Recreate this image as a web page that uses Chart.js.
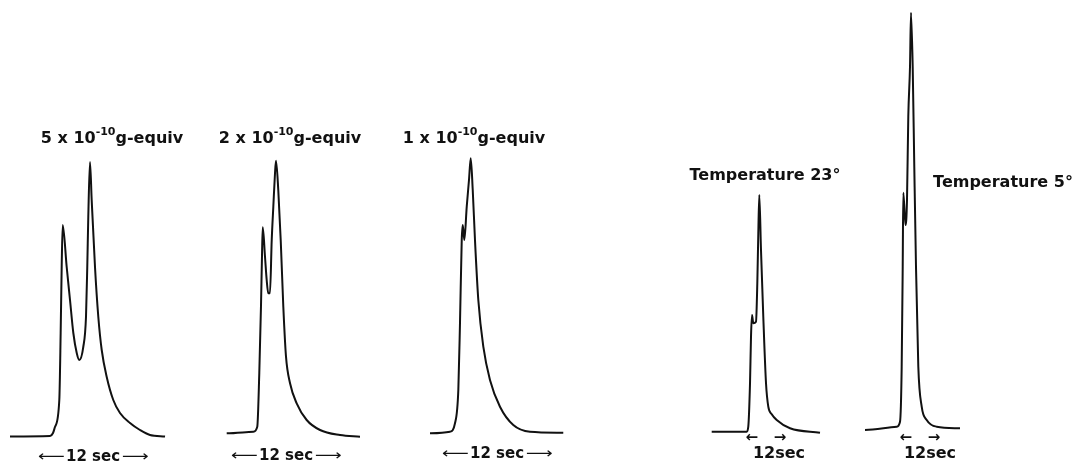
<!DOCTYPE html>
<html>
<head>
<meta charset="utf-8">
<script src="https://cdn.jsdelivr.net/npm/chart.js@4.4.0/dist/chart.umd.min.js"></script>
<style>
  body { margin: 0; background: #fff; }
  #wrap { position: relative; width: 1073px; height: 464px; }
  .lbl {
    position: absolute; transform: translate(-50%, -50%);
    font-family: "DejaVu Sans", sans-serif; font-weight: bold;
    font-size: 16px; color: #111; white-space: nowrap; line-height: 1;
  }
  .lbl sup { font-size: 11px; position: relative; top: -2px; }
  .small { font-size: 15px; }
  .arr { display: inline-block; transform: scaleX(1.25); font-weight: normal; margin: 0 4px; }
</style>
</head>
<body>
<div id="wrap">
  <canvas id="graphCanvas" width="1073" height="464"></canvas>
  <div class="lbl" style="left:112px;top:137px">5 x 10<sup>-10</sup>g-equiv</div>
  <div class="lbl" style="left:290px;top:137px">2 x 10<sup>-10</sup>g-equiv</div>
  <div class="lbl" style="left:474px;top:137px">1 x 10<sup>-10</sup>g-equiv</div>
  <div class="lbl" style="left:765px;top:175px">Temperature 23°</div>
  <div class="lbl" style="left:1003px;top:182px">Temperature 5°</div>
  <div class="lbl small" style="left:93px;top:456px"><span class="arr">⟵</span>12 sec<span class="arr">⟶</span></div>
  <div class="lbl small" style="left:286px;top:455px"><span class="arr">⟵</span>12 sec<span class="arr">⟶</span></div>
  <div class="lbl small" style="left:497px;top:453px"><span class="arr">⟵</span>12 sec<span class="arr">⟶</span></div>
  <div class="lbl small" style="left:766px;top:437px">←&nbsp;&nbsp;&nbsp;→</div>
  <div class="lbl" style="left:779px;top:453px">12sec</div>
  <div class="lbl small" style="left:920px;top:437px">←&nbsp;&nbsp;&nbsp;→</div>
  <div class="lbl" style="left:930px;top:453px">12sec</div>
</div>
<script>
// each trace: time in seconds from the start of the recording, signal above baseline
var time1 = [0, 4.71, 5.06, 5.29, 5.80, 5.96, 6.08, 6.20, 6.67, 7.06, 7.45, 7.85, 8.15, 8.62, 8.94, 9.09, 9.21, 9.41, 9.61, 10.0, 10.39, 10.79, 11.38, 12.15, 12.94, 14.12, 15.29, 16.47, 18.24];
var sig1  = [0, 0.5, 3.5, 9.5, 36.5, 103.5, 169.5, 211.5, 169.5, 136.5, 103.5, 83.5, 76.5, 89.5, 119.5, 169.5, 219.5, 274.5, 236.5, 169.5, 119.5, 86.5, 59.5, 36.5, 23.5, 13.5, 6.5, 1.5, 0];

var time2 = [0, 3.17, 3.64, 3.88, 4.08, 4.20, 4.29, 4.56, 4.76, 4.95, 5.15, 5.36, 5.55, 5.75, 5.87, 6.14, 6.43, 6.74, 7.06, 7.54, 8.33, 9.52, 11.11, 13.49, 15.87];
var sig2  = [0.7, 2.3, 7.3, 61, 127.3, 177.3, 206.7, 177.3, 154, 140.7, 140.7, 194, 227.3, 260.7, 273.3, 244, 194, 127.3, 77.3, 50.7, 30.7, 14, 4, -1, -2.7];

var time3 = [0, 2.40, 3.00, 3.40, 3.60, 3.81, 3.93, 4.12, 4.41, 4.68, 4.89, 5.13, 5.40, 5.80, 6.40, 7.20, 8.40, 10.0, 12.0, 16.0];
var sig3  = [-0.3, 1.3, 9.7, 43, 109.7, 193, 208, 193, 226.3, 253, 274.7, 243, 193, 133, 86.3, 53, 26.3, 8, 1.3, 0.3];

var time4 = [0, 11.99, 12.53, 13.12, 13.46, 13.80, 14.25, 15.17, 15.62, 15.96, 16.30, 16.88, 17.67, 18.60, 19.38, 20.5, 22.26, 26.82, 37.09];
var sig4  = [0.3, 0.3, 5.3, 48.7, 95.3, 117, 108.7, 110.3, 148.7, 198.7, 237, 182, 115.3, 48.7, 25.3, 18, 12, 3.7, -0.7];

var time5 = [0, 10.57, 11.67, 12.23, 12.57, 12.77, 13.5, 14.0, 14.43, 15.0, 15.33, 15.9, 16.43, 17.0, 17.77, 18.9, 20.57, 23.9, 31.67];
var sig5  = [0, 3.3, 8.3, 63.3, 163.3, 237.3, 205, 230, 313.3, 363.3, 417.3, 363.3, 263.3, 163.3, 63.3, 23.3, 10, 3.3, 1.7];

var times = [time1, time2, time3, time4, time5];
var signals = [sig1, sig2, sig3, sig4, sig5];

// where each recording sits on the page (left edge, px per second, baseline)
var panelX0 = [10, 226.7, 430, 711.7, 865];
var panelPps = [8.5, 8.4, 8.33, 2.92, 3];
var panelBase = [436.5, 434, 433, 432, 430];

var H = 464;
var datasets = [];
for (var p = 0; p < times.length; p++) {
  var pts = [];
  for (var i = 0; i < times[p].length; i++) {
    pts.push({ x: panelX0[p] + times[p][i] * panelPps[p], y: H - panelBase[p] + signals[p][i] });
  }
  datasets.push({
    data: pts,
    showLine: true,
    borderColor: "#111",
    borderWidth: 2,
    pointRadius: 0,
    cubicInterpolationMode: "monotone",
    fill: false
  });
}

var ctx = document.getElementById("graphCanvas");
var chart = new Chart(ctx, {
  type: "scatter",
  data: { datasets: datasets },
  options: {
    responsive: false,
    animation: false,
    layout: { padding: 0 },
    plugins: { legend: { display: false }, tooltip: { enabled: false } },
    scales: {
      x: { type: "linear", min: 0, max: 1073, display: false },
      y: { type: "linear", min: 0, max: H, display: false }
    }
  }
});
</script>
</body>
</html>
